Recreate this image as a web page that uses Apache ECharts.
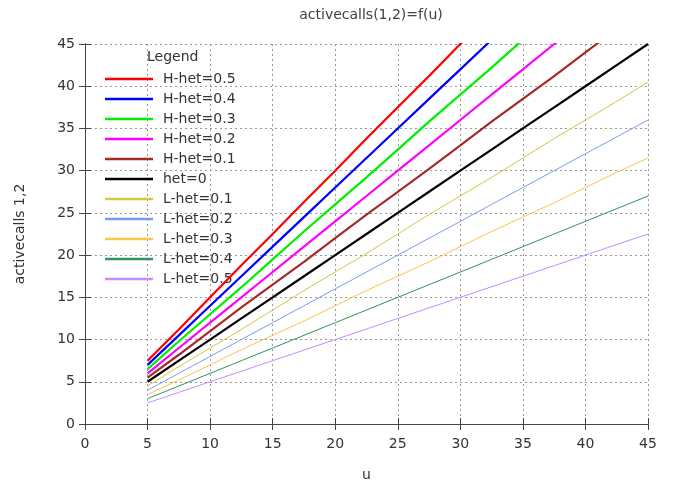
<!DOCTYPE html>
<html>
<head>
<meta charset="utf-8">
<script src="https://cdn.jsdelivr.net/npm/echarts@6/dist/echarts.min.js"></script>
<style>html,body{margin:0;padding:0;background:#fff}#c{width:675px;height:485px}</style>
</head>
<body>
<div id="c"></div>
<script>
const U = [5, 7.5, 10, 12.5, 15, 17.5, 20, 22.5, 25, 27.5, 30, 32.5, 35, 37.5, 40, 42.5, 45];
const xTicks = [0, 5, 10, 15, 20, 25, 30, 35, 40, 45];
const yTicks = [0, 5, 10, 15, 20, 25, 30, 35, 40, 45];
const H05 = [7.5, 11.2, 15.0, 18.8, 22.5, 26.3, 30.0, 33.8, 37.5, 41.2, 45.0, 48.8];
const H04 = [7.0, 10.5, 14.0, 17.5, 21.0, 24.5, 28.0, 31.5, 35.0, 38.5, 42.0, 45.5, 49.0];
const H03 = [6.5, 9.8, 13.0, 16.2, 19.5, 22.8, 26.0, 29.2, 32.5, 35.8, 39.0, 42.2, 45.5, 48.8];
const H02 = [6.0, 9.0, 12.0, 15.0, 18.0, 21.0, 24.0, 27.0, 30.0, 33.0, 36.0, 39.0, 42.0, 45.0, 48.0];
const H01 = [5.5, 8.2, 11.0, 13.8, 16.5, 19.2, 22.0, 24.8, 27.5, 30.2, 33.0, 35.8, 38.5, 41.2, 44.0, 46.8];
const HET0 = [5.0, 7.5, 10.0, 12.5, 15.0, 17.5, 20.0, 22.5, 25.0, 27.5, 30.0, 32.5, 35.0, 37.5, 40.0, 42.5, 45.0];
const L01 = [4.5, 6.8, 9.0, 11.2, 13.5, 15.8, 18.0, 20.2, 22.5, 24.8, 27.0, 29.2, 31.5, 33.8, 36.0, 38.2, 40.5];
const L02 = [4.0, 6.0, 8.0, 10.0, 12.0, 14.0, 16.0, 18.0, 20.0, 22.0, 24.0, 26.0, 28.0, 30.0, 32.0, 34.0, 36.0];
const L03 = [3.5, 5.2, 7.0, 8.8, 10.5, 12.2, 14.0, 15.8, 17.5, 19.2, 21.0, 22.8, 24.5, 26.2, 28.0, 29.8, 31.5];
const L04 = [3.0, 4.5, 6.0, 7.5, 9.0, 10.5, 12.0, 13.5, 15.0, 16.5, 18.0, 19.5, 21.0, 22.5, 24.0, 25.5, 27.0];
const L05 = [2.5, 3.75, 5.0, 6.25, 7.5, 8.75, 10.0, 11.25, 12.5, 13.75, 15.0, 16.25, 17.5, 18.75, 20.0, 21.25, 22.5];

const names = ['H-het=0.5','H-het=0.4','H-het=0.3','H-het=0.2','H-het=0.1','het=0','L-het=0.1','L-het=0.2','L-het=0.3','L-het=0.4','L-het=0.5'];
const values = [H05, H04, H03, H02, H01, HET0, L01, L02, L03, L04, L05];
const colors = ['#ff0000','#0000ff','#00ee00','#ff00ff','#a52a2a','#000000','#d4c83c','#7a9cf0','#ffc24a','#2e9460','#c48cff'];
const widths = [2.2, 2.2, 2.2, 2.2, 2.2, 2.2, 1, 1, 1, 1, 1];

const FONT = 'DejaVu Sans';
const chart = echarts.init(document.getElementById('c'));
const series = names.map((n, i) => ({
  name: n,
  type: 'line',
  xAxisIndex: 0, yAxisIndex: 0,
  data: values[i].map((v, j) => [U[j], v]),
  symbol: 'none',
  clip: true,
  lineStyle: { color: colors[i], width: widths[i] },
  itemStyle: { color: colors[i] },
  z: 20 - i,
  animation: false
}));

const axisCommon = {
  type: 'value', min: 0, max: 45, interval: 5,
  axisLine: { show: true, lineStyle: { color: '#444', width: 1 } },
  axisTick: { show: true, inside: true, length: 6, lineStyle: { color: '#444' } },
};

chart.setOption({
  animation: false,
  backgroundColor: '#fff',
  textStyle: { fontFamily: FONT },
  title: {
    text: 'activecalls(1,2)=f(u)', left: 366, top: 3, textAlign: 'center',
    textStyle: { fontFamily: FONT, fontSize: 14, fontWeight: 'normal', color: '#404040' }
  },
  grid: { left: 85, right: 27, top: 44, bottom: 61, containLabel: false, outerBoundsMode: 'none' },
  legend: {
    orient: 'vertical', left: 100, top: 67,
    icon: 'rect',
    itemWidth: 48, itemHeight: 2.5, itemGap: 6,
    data: names,
    textStyle: { fontFamily: FONT, fontSize: 14, color: '#333', lineHeight: 14, padding: [0, 0, 0, 5] },
    inactiveColor: '#ccc'
  },
  graphic: [{
    type: 'text', left: 147, top: 50,
    style: { text: 'Legend', font: '14px "DejaVu Sans"', fill: '#333' }
  }],
  xAxis: [
    Object.assign({}, axisCommon, {
      position: 'bottom', name: 'u', nameLocation: 'middle', nameGap: 44,
      nameTextStyle: { fontFamily: FONT, fontSize: 14, color: '#333' },
      axisLabel: { fontFamily: FONT, fontSize: 14, color: '#333', margin: 13 },
      splitLine: { show: true, lineStyle: { color: '#999', type: [2, 3], width: 1 } }
    }),
    Object.assign({}, axisCommon, {
      position: 'top', axisLabel: { show: false }, splitLine: { show: false }
    })
  ],
  yAxis: [
    Object.assign({}, axisCommon, {
      position: 'left', name: 'activecalls 1,2', nameLocation: 'middle', nameGap: 58,
      nameTextStyle: { fontFamily: FONT, fontSize: 14, color: '#333' },
      axisLabel: { fontFamily: FONT, fontSize: 14, color: '#333', margin: 10 },
      splitLine: { show: true, lineStyle: { color: '#999', type: [2, 3], width: 1 } }
    }),
    Object.assign({}, axisCommon, {
      position: 'right', axisLabel: { show: false }, splitLine: { show: false }
    })
  ],
  series: series
});
</script>
</body>
</html>
